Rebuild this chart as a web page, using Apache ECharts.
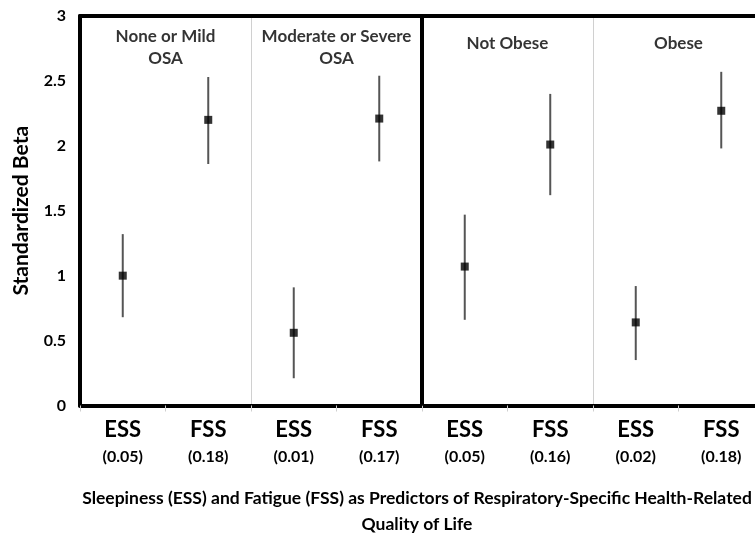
<!DOCTYPE html>
<html>
<head>
<meta charset="utf-8">
<script src="https://cdn.jsdelivr.net/npm/echarts@6/dist/echarts.min.js"></script>
<style>html,body{margin:0;padding:0;background:#fff}#c{width:755px;height:535px}</style>
</head>
<body>
<div id="c"></div>
<script>
var categories = ['ESS','FSS','ESS','FSS','ESS','FSS','ESS','FSS'];
var r2Labels = ['(0.05)','(0.18)','(0.01)','(0.17)','(0.05)','(0.16)','(0.02)','(0.18)'];
var beta = [1.00, 2.20, 0.56, 2.21, 1.07, 2.01, 0.64, 2.27];
var ciLow = [0.68, 1.86, 0.21, 1.88, 0.66, 1.62, 0.35, 1.98];
var ciHigh = [1.32, 2.53, 0.91, 2.54, 1.47, 2.40, 0.92, 2.57];
var groupNames = ['None or Mild\nOSA','Moderate or Severe\nOSA','Not Obese','Obese'];
var groupLabelY = [2.76, 2.76, 2.79, 2.79];
var yTicks = [0, 0.5, 1, 1.5, 2, 2.5, 3];

var FONT = 'Lato';
var pts = beta.map(function(v,i){ return [i+0.5, v]; });
var bars = beta.map(function(v,i){ return [i+0.5, ciLow[i], ciHigh[i]]; });
var grpPts = groupNames.map(function(n,i){ return {name:n, value:[2*i+1, groupLabelY[i]]}; });

var chart = echarts.init(document.getElementById('c'), null, {renderer:'canvas'});
chart.setOption({
  animation:false,
  backgroundColor:'#fff',
  grid:{left:80, top:16, width:684, height:389.5, containLabel:false, outerBoundsMode:'none'},
  xAxis:[{
    type:'category', data:categories, position:'bottom',
    boundaryGap:true,
    axisLine:{show:true, lineStyle:{color:'#000', width:4}},
    axisTick:{show:true, length:6, lineStyle:{color:'#cfcfcf', width:1}},
    splitLine:{show:false},
    axisLabel:{
      interval:0, margin:10,
      formatter:function(v,i){ return '{a|'+v+'}\n{b|'+r2Labels[i]+'}'; },
      rich:{
        a:{fontFamily:FONT, fontWeight:'bold', fontSize:22, lineHeight:28, color:'#000'},
        b:{fontFamily:FONT, fontWeight:'bold', fontSize:16, lineHeight:26, color:'#000'}
      }
    },
    name:'Sleepiness (ESS) and Fatigue (FSS) as Predictors of Respiratory-Specific Health-Related\nQuality of Life',
    nameLocation:'middle', nameGap:80,
    nameTextStyle:{fontFamily:FONT, fontWeight:'bold', fontSize:17.5, lineHeight:26, color:'#000', padding:[0,10,0,0]}
  },{
    type:'value', min:0, max:8, interval:2, position:'top',
    axisLine:{show:true, onZero:false, lineStyle:{color:'#000', width:4}},
    axisTick:{show:false}, axisLabel:{show:false},
    splitLine:{show:true, lineStyle:{color:'#d0d0d0', width:1}}
  }],
  yAxis:{
    type:'value', min:0, max:3, interval:0.5,
    axisLine:{show:true, lineStyle:{color:'#000', width:4}},
    axisTick:{show:false}, splitLine:{show:false},
    axisLabel:{margin:14, fontFamily:FONT, fontWeight:'bold', fontSize:16, color:'#000',
      formatter:function(v){ return yTicks.indexOf(v)>=0 ? String(v) : ''; }},
    name:'Standardized Beta', nameLocation:'middle', nameGap:48, nameRotate:90,
    nameTextStyle:{fontFamily:FONT, fontWeight:'bold', fontSize:21, color:'#000'}
  },
  series:[{
    type:'custom', xAxisIndex:1, data:bars, z:3,
    renderItem:function(params, api){
      var a = api.coord([api.value(0), api.value(1)]);
      var b = api.coord([api.value(0), api.value(2)]);
      return {type:'line', shape:{x1:a[0], y1:a[1], x2:b[0], y2:b[1]},
        style:{stroke:'#555', lineWidth:2}};
    }
  },{
    type:'scatter', xAxisIndex:1, data:pts, symbol:'rect', symbolSize:8, z:4,
    itemStyle:{color:'#000'},
    markLine:{silent:true, symbol:'none', label:{show:false},
      lineStyle:{color:'#000', width:4, type:'solid'},
      data:[{xAxis:4}]}
  },{
    type:'scatter', xAxisIndex:1, data:grpPts, symbolSize:0, z:5,
    label:{show:true, position:'inside', formatter:'{b}', fontFamily:FONT, fontWeight:'bold',
      fontSize:17, lineHeight:22, color:'#000', align:'center', verticalAlign:'middle'}
  }]
});
</script>
</body>
</html>
